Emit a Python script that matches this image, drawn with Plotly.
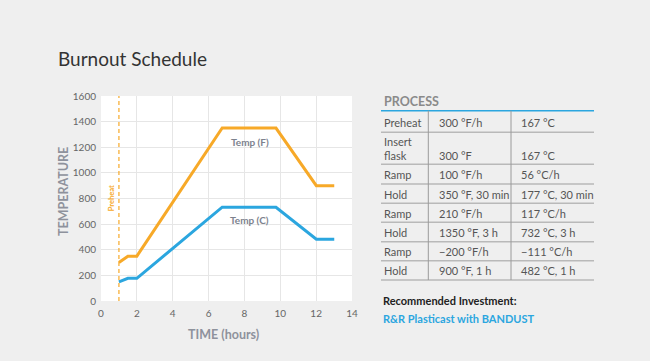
import plotly.graph_objects as go

# ---- data ----
time_h = [1, 1.5, 2, 6.76, 9.76, 12.01, 13.01]
temp_f = [300, 350, 350, 1350, 1350, 900, 900]
temp_c = [150, 177, 177, 732, 732, 482, 482]
x_ticks = [0, 2, 4, 6, 8, 10, 12, 14]
y_ticks = [0, 200, 400, 600, 800, 1000, 1200, 1400, 1600]
preheat_x = 1

table_header = "PROCESS"
steps = ["Preheat", "Insert<br>flask", "Ramp", "Hold", "Ramp", "Hold", "Ramp", "Hold"]
f_vals = ["300 °F/h", "300 °F", "100 °F/h", "350 °F, 30 min", "210 °F/h",
          "1350 °F, 3 h", "−200 °F/h", "900 °F, 1 h"]
c_vals = ["167 °C", "167 °C", "56 °C/h", "177 °C, 30 min", "117 °C/h",
          "732 °C, 3 h", "−111 °C/h", "482 °C, 1 h"]

ORANGE = "#f7a928"
BLUE = "#2ba6df"
BG = "#efefef"
FONT = "Lato"

W, H = 650, 361
L, R, T, B = 101, 298, 96, 60
PW, PH = W - L - R, H - T - B


def px(x):
    return (x - L) / PW


def py(y):
    return (H - B - y) / PH


fig = go.Figure()
fig.add_trace(go.Scatter(x=time_h, y=temp_f, mode="lines",
                         line=dict(color=ORANGE, width=3), hoverinfo="skip"))
fig.add_trace(go.Scatter(x=time_h, y=temp_c, mode="lines",
                         line=dict(color=BLUE, width=3), hoverinfo="skip"))

shapes = []
annotations = []

# preheat dashed line
shapes.append(dict(type="line", xref="x", yref="y", x0=preheat_x, x1=preheat_x,
                   y0=0, y1=1600, line=dict(color=ORANGE, width=1.2, dash="4px,3px")))
annotations.append(dict(xref="x", yref="y", x=0.6, y=800, text="<b>Preheat</b>",
                        textangle=-90, showarrow=False, xanchor="center", yanchor="middle",
                        font=dict(family=FONT, size=7.5, color=ORANGE)))

# series labels
annotations.append(dict(xref="x", yref="y", x=8.3, y=1243, text="<b>Temp (F)</b>",
                        showarrow=False, xanchor="center", yanchor="middle",
                        font=dict(family=FONT, size=10, color="#7d828e")))
annotations.append(dict(xref="x", yref="y", x=8.3, y=636, text="<b>Temp (C)</b>",
                        showarrow=False, xanchor="center", yanchor="middle",
                        font=dict(family=FONT, size=10, color="#7d828e")))

# axis titles
annotations.append(dict(xref="paper", yref="paper", x=px(63), y=py(192),
                        text="<b>TEMPERATURE</b>", textangle=-90, showarrow=False,
                        xanchor="center", yanchor="middle",
                        font=dict(family=FONT, size=12.5, color="#8e929c")))
annotations.append(dict(xref="paper", yref="paper", x=px(223), y=py(334),
                        text="<b>TIME (hours)</b>", showarrow=False,
                        xanchor="center", yanchor="middle",
                        font=dict(family=FONT, size=12.5, color="#8e929c")))

# title
annotations.append(dict(xref="paper", yref="paper", x=px(56), y=py(58.5),
                        xanchor="left", yanchor="middle", text="Burnout Schedule",
                        showarrow=False, font=dict(family=FONT, size=19, color="#333333")))

# ---- table ----
tx0, tx1 = 381, 594
col_x = [382, 436.5, 519]
vcol = [428.3, 511]
row_lines = [132.3, 164.3, 184, 203.3, 222.3, 241.7, 260.7, 280]
row_tops = [110.7] + row_lines[:-1]

annotations.append(dict(xref="paper", yref="paper", x=px(381.5), y=py(101),
                        xanchor="left", yanchor="middle", text="<b>" + table_header + "</b>",
                        showarrow=False, font=dict(family=FONT, size=12.5, color="#8a8a8a")))
shapes.append(dict(type="line", xref="paper", yref="paper", x0=px(tx0), x1=px(tx1),
                   y0=py(110.7), y1=py(110.7), line=dict(color=BLUE, width=1.5)))
for yl in row_lines:
    shapes.append(dict(type="line", xref="paper", yref="paper", x0=px(tx0), x1=px(tx1),
                       y0=py(yl), y1=py(yl), line=dict(color="#b9b9b9", width=1.5)))
for xv in vcol:
    shapes.append(dict(type="line", xref="paper", yref="paper", x0=px(xv), x1=px(xv),
                       y0=py(110.7), y1=py(280), line=dict(color="#9a9a9a", width=1)))

tfont = dict(family=FONT, size=11, color="#555555")
for i, (s, f, c) in enumerate(zip(steps, f_vals, c_vals)):
    top, bot = row_tops[i], row_lines[i]
    if "<br>" in s:
        yc_label = (top + bot) / 2 + 0.5
        yc_val = bot - 8.5
    else:
        yc_label = yc_val = (top + bot) / 2 + 0.5
    annotations.append(dict(xref="paper", yref="paper", x=px(col_x[0]), y=py(yc_label),
                            xanchor="left", yanchor="middle", align="left", text=s,
                            showarrow=False, font=tfont))
    annotations.append(dict(xref="paper", yref="paper", x=px(col_x[1]), y=py(yc_val),
                            xanchor="left", yanchor="middle", text=f,
                            showarrow=False, font=tfont))
    annotations.append(dict(xref="paper", yref="paper", x=px(col_x[2]), y=py(yc_val),
                            xanchor="left", yanchor="middle", text=c,
                            showarrow=False, font=tfont))

annotations.append(dict(xref="paper", yref="paper", x=px(380.5), y=py(300),
                        xanchor="left", yanchor="middle", text="<b>Recommended Investment:</b>",
                        showarrow=False, font=dict(family=FONT, size=11, color="#222222")))
annotations.append(dict(xref="paper", yref="paper", x=px(380.5), y=py(318.5),
                        xanchor="left", yanchor="middle", text="<b>R&R Plasticast with BANDUST</b>",
                        showarrow=False, font=dict(family=FONT, size=11, color=BLUE)))

fig.update_layout(
    width=W, height=H,
    margin=dict(l=L, r=R, t=T, b=B),
    paper_bgcolor=BG, plot_bgcolor="white",
    showlegend=False,
    shapes=shapes, annotations=annotations,
    xaxis=dict(range=[0, 14], tickvals=x_ticks, showgrid=True, gridcolor="#e6e6e6",
               gridwidth=1, zeroline=False, showline=False, ticks="",
               ticklabelstandoff=5,
               tickfont=dict(family=FONT, size=10, color="#666666")),
    yaxis=dict(range=[0, 1600], tickvals=y_ticks, showgrid=True, gridcolor="#e6e6e6",
               gridwidth=1, zeroline=False, showline=False, ticks="",
               ticklabelstandoff=4,
               tickfont=dict(family=FONT, size=10, color="#666666")),
)

fig.write_html(
    "out.html",
    config={"displayModeBar": False, "staticPlot": True},
    post_script="document.body.style.margin='0';document.body.style.padding='0';"
                "document.body.style.overflow='hidden';"
                "document.documentElement.style.overflow='hidden';",
)
